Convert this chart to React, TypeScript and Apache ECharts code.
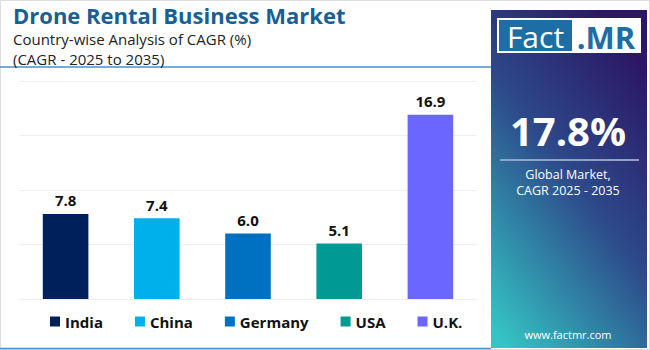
import React, { useEffect, useRef } from "react";
import * as echarts from "echarts";

const countries = ["India", "China", "Germany", "USA", "U.K."];
const cagrValues = [7.8, 7.4, 6.0, 5.1, 16.9];
const barColors = ["#00205b", "#00b0ea", "#0070c0", "#009a95", "#6a66ff"];
const yTicks = [0, 5, 10, 15, 20];

const titleText = "Drone Rental Business Market";
const subtitle1 = "Country-wise Analysis of CAGR (%)";
const subtitle2 = "(CAGR - 2025 to 2035)";
const globalValue = "17.8%";
const globalLabel1 = "Global Market,";
const globalLabel2 = "CAGR 2025 - 2035";
const website = "www.factmr.com";

const FONT = "'Open Sans', 'Noto Sans', sans-serif";

export default function App() {
  const ref = useRef<HTMLDivElement>(null);
  useEffect(() => {
    document.body.style.margin = "0";
    const chart = echarts.init(ref.current!, null, { renderer: "svg" });
    const series = countries.map((c, i) => ({
      name: c,
      type: "bar",
      stack: "all",
      barWidth: "50%",
      data: cagrValues.map((v, j) => (j === i ? v : null)),
      itemStyle: { color: barColors[i] },
      label: {
        show: true,
        position: "top",
        distance: 6,
        formatter: (p: any) => Number(p.value).toFixed(1),
        fontFamily: FONT,
        fontWeight: "bold",
        fontSize: 15,
        color: "#111",
      },
    }));
    chart.setOption({
      animation: false,
      backgroundColor: "#ffffff",
      grid: { left: 20, right: 174, top: 81, bottom: 51, containLabel: false },
      xAxis: {
        type: "category",
        data: countries,
        axisLine: { show: false },
        axisTick: { show: false },
        axisLabel: { show: false },
      },
      yAxis: {
        type: "value",
        min: yTicks[0],
        max: yTicks[yTicks.length - 1],
        interval: 5,
        axisLabel: { show: false },
        axisLine: { show: false },
        axisTick: { show: false },
        splitLine: { lineStyle: { color: "#eeeeee", width: 1 } },
      },
      legend: {
        left: 50,
        top: 314,
        padding: 0,
        itemWidth: 10,
        itemHeight: 10,
        itemGap: 32,
        icon: "rect",
        data: countries,
        textStyle: { fontFamily: FONT, fontWeight: "bold", fontSize: 15, color: "#111" },
      },
      series,
      graphic: [
        { type: "rect", shape: { x: 0.5, y: 0.5, width: 649, height: 349 }, style: { fill: "none", stroke: "#dddddd", lineWidth: 1 }, silent: true },
        { type: "line", shape: { x1: 0, y1: 67, x2: 491, y2: 67 }, style: { stroke: "#4a8fc7", lineWidth: 1.5 } },
        { type: "line", shape: { x1: 0, y1: 348.5, x2: 491, y2: 348.5 }, style: { stroke: "#4a8fc7", lineWidth: 1.5 } },
        { type: "text", left: 13, top: 4, style: { text: titleText, font: `bold 22px ${FONT}`, fill: "#195f94" } },
        { type: "text", left: 13, top: 29, style: { text: subtitle1 + "\n" + subtitle2, font: `15px ${FONT}`, lineHeight: 20, fill: "#222" } },
        {
          type: "rect",
          shape: { x: 491, y: 10, width: 156, height: 338 },
          style: {
            fill: new echarts.graphic.LinearGradient(0.7, 0, 0.1, 1, [
              { offset: 0, color: "#2b1766" },
              { offset: 0.45, color: "#2d4a8a" },
              { offset: 1, color: "#34c4c4" },
            ]),
          },
        },
        { type: "rect", shape: { x: 497, y: 18, width: 144, height: 35 }, style: { fill: "#ffffff" } },
        { type: "rect", shape: { x: 499, y: 20, width: 73, height: 31 }, style: { fill: "#1c6ea4" } },
        { type: "text", x: 535.5, y: 36, style: { text: "Fact", font: `30px ${FONT}`, fill: "#ffffff", textAlign: "center", textVerticalAlign: "middle" } },
        { type: "text", x: 606, y: 37, style: { text: ".MR", font: `bold 31px ${FONT}`, fill: "#1c6ea4", textAlign: "center", textVerticalAlign: "middle" } },
        { type: "text", x: 568, y: 130, style: { text: globalValue, font: `bold 40px ${FONT}`, fill: "#ffffff", textAlign: "center", textVerticalAlign: "middle" } },
        { type: "line", shape: { x1: 500, y1: 160, x2: 639, y2: 160 }, style: { stroke: "#8fa3c8", lineWidth: 2 } },
        { type: "text", x: 568, y: 174, style: { text: globalLabel1, font: `12.5px ${FONT}`, fill: "#ffffff", textAlign: "center", textVerticalAlign: "middle" } },
        { type: "text", x: 568, y: 190, style: { text: globalLabel2, font: `12.5px ${FONT}`, fill: "#ffffff", textAlign: "center", textVerticalAlign: "middle" } },
        { type: "text", x: 568, y: 334, style: { text: website, font: `11px ${FONT}`, fill: "#ffffff", textAlign: "center", textVerticalAlign: "middle" } },
      ],
    });
    return () => chart.dispose();
  }, []);
  return <div ref={ref} style={{ width: 650, height: 350 }} />;
}
